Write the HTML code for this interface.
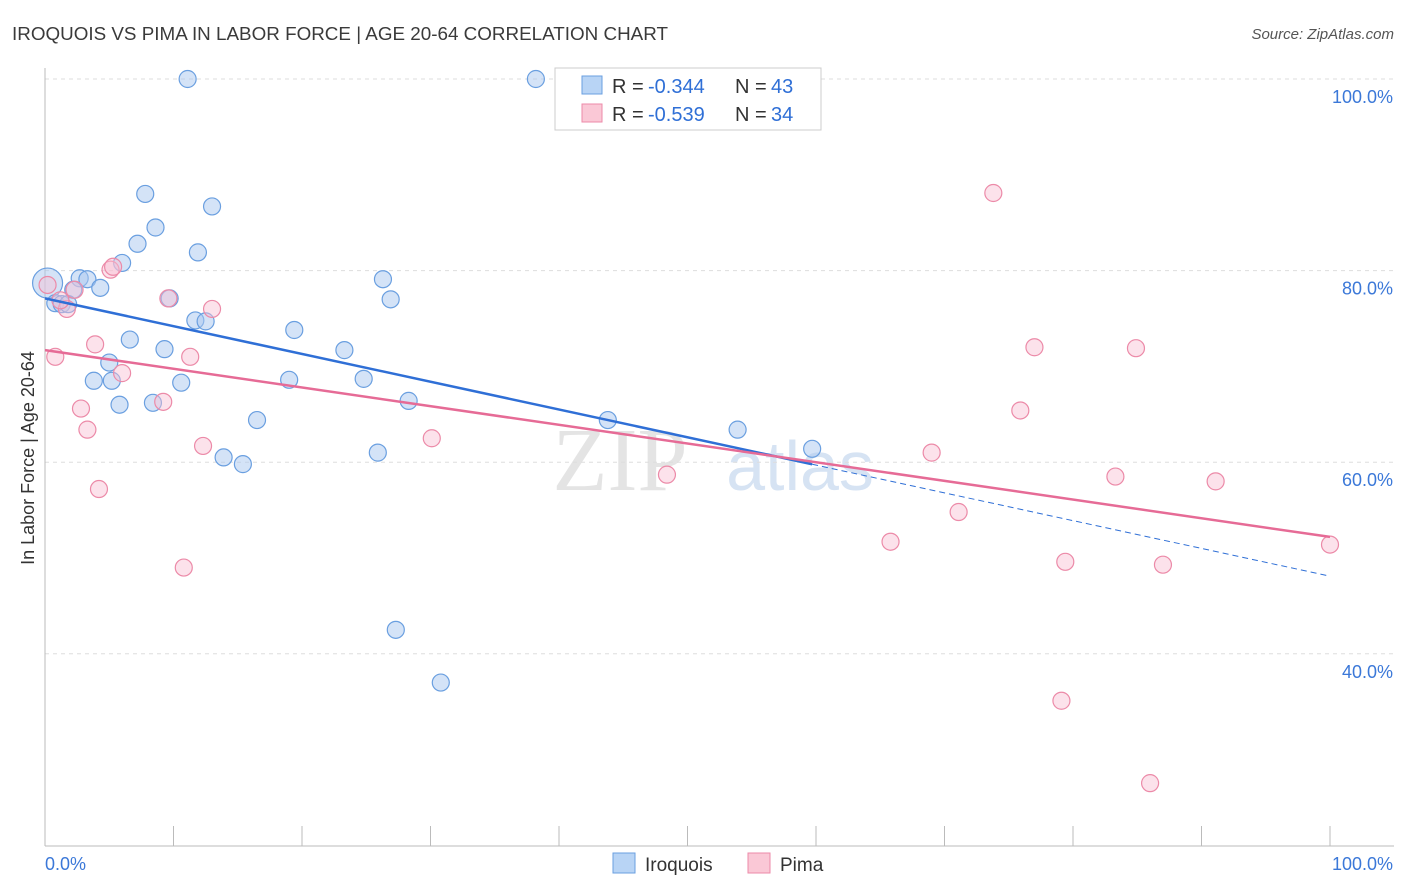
<!DOCTYPE html>
<html><head><meta charset="utf-8"><style>
body{margin:0;background:#fff;font-family:"Liberation Sans",sans-serif;}
svg{display:block}
</style></head><body>
<svg id="chart" width="1406" height="892">
<text x="12" y="40" font-size="18" fill="#3a3a3a" textLength="656" lengthAdjust="spacingAndGlyphs">IROQUOIS VS PIMA IN LABOR FORCE | AGE 20-64 CORRELATION CHART</text>
<text x="1394" y="39" font-size="15" fill="#555" text-anchor="end" font-style="italic">Source: ZipAtlas.com</text>
<text x="34" y="458" font-size="18" fill="#333" transform="rotate(-90 34 458)" text-anchor="middle">In Labor Force | Age 20-64</text>
<text x="620" y="490" font-size="90" fill="#e4e4e4" font-family="Liberation Serif,serif" text-anchor="middle">ZIP</text>
<text x="800" y="490" font-size="70" fill="#d6e3f3" text-anchor="middle">atlas</text>
<g id="grid"></g><g id="marks"></g>
<g>
<rect x="555" y="68" width="266" height="62" fill="#fff" stroke="#ccc"/>
<rect x="582" y="76" width="20" height="18" fill="#b8d4f5" stroke="#6a9fe0"/>
<rect x="582" y="104" width="20" height="18" fill="#fac8d6" stroke="#ec8aa8"/>
<text x="612" y="93" font-size="20" fill="#333">R =</text>
<text x="648" y="93" font-size="20" fill="#2f6fd6">-0.344</text>
<text x="735" y="93" font-size="20" fill="#333">N =</text>
<text x="771" y="93" font-size="20" fill="#2f6fd6">43</text>
<text x="612" y="121" font-size="20" fill="#333">R =</text>
<text x="648" y="121" font-size="20" fill="#2f6fd6">-0.539</text>
<text x="735" y="121" font-size="20" fill="#333">N =</text>
<text x="771" y="121" font-size="20" fill="#2f6fd6">34</text>
</g>
<g>
<rect x="613" y="853" width="22" height="20" fill="#b8d4f5" stroke="#6a9fe0"/>
<text x="645" y="871" font-size="19" fill="#333">Iroquois</text>
<rect x="748" y="853" width="22" height="20" fill="#fac8d6" stroke="#ec8aa8"/>
<text x="780" y="871" font-size="19" fill="#333">Pima</text>
</g>
</svg>
<script>
const iroqX=[11.1,38.2,7.8,13.0,8.6,7.2,11.9,6.0,2.7,3.3,26.3,4.3,2.2,0.2,26.9,0.8,1.3,1.8,11.7,12.5,19.4,6.6,9.3,23.3,5.0,3.8,5.2,10.6,19.0,24.8,8.4,5.8,28.3,16.5,43.8,53.9,59.7,13.9,15.4,25.9,27.3,30.8,9.7];
const iroqY=[100,100,88.0,86.7,84.5,82.8,81.9,80.8,79.2,79.1,79.1,78.2,78.0,78.7,77.0,76.6,76.5,76.5,74.8,74.7,73.8,72.8,71.8,71.7,70.4,68.5,68.5,68.3,68.6,68.7,66.2,66.0,66.4,64.4,64.4,63.4,61.4,60.5,59.8,61.0,42.5,37.0,77.1];
const pimaX=[73.8,0.2,5.1,5.3,9.6,2.3,1.7,13.0,3.9,0.8,11.3,6.0,2.8,9.2,3.3,30.1,12.3,69.0,75.9,77.0,84.9,48.4,83.3,91.1,4.2,71.1,65.8,100,10.8,79.4,87.0,79.1,86.0,1.2];
const pimaY=[88.1,78.5,80.1,80.4,77.1,78.0,76.0,76.0,72.3,71.0,71.0,69.3,65.6,66.3,63.4,62.5,61.7,61.0,65.4,72.0,71.9,58.7,58.5,58.0,57.2,54.8,51.7,51.4,49.0,49.6,49.3,35.1,26.5,76.9];
const iroqLine=[77.1,48.1], iroqSolidEnd=59.7;
const pimaLine=[71.7,52.2];
const yTicks=[100,80,60,40];
const yTickLabels=["100.0%","80.0%","60.0%","40.0%"];
const xTickCount=10;
const X=v=>45+v*12.85, Y=v=>79+(100-v)*9.58;
const NS="http://www.w3.org/2000/svg";
function mk(t,a,p){const e=document.createElementNS(NS,t);for(const k in a)e.setAttribute(k,a[k]);p.appendChild(e);return e;}
const grid=document.getElementById('grid'),marks=document.getElementById('marks');
yTicks.forEach((t,i)=>{
 const l=mk('line',{x1:45,x2:1394,y1:Y(t),y2:Y(t),stroke:'#ddd','stroke-dasharray':'4,4'},grid);
 
 
 const tx=mk('text',{x:1393,y:Y(t)+24,'font-size':18,fill:'#3b78d8','text-anchor':'end'},grid);
 tx.textContent=yTickLabels[i];
 
 
});
const ax=mk('line',{x1:45,x2:45,y1:68,y2:846,stroke:'#bbb'},grid);


const bx=mk('line',{x1:45,x2:1394,y1:846,y2:846,stroke:'#bbb'},grid);


for(let i=0;i<=xTickCount;i++){const v=i*100/xTickCount;
 const t=mk('line',{x1:X(v),x2:X(v),y1:826,y2:846,stroke:'#bbb'},grid);
 
 }
[["0.0%",45,'start'],["100.0%",1393,'end']].forEach(d=>{const t=mk('text',{x:d[1],y:870,'font-size':18,fill:'#3b78d8','text-anchor':d[2]},grid);t.textContent=d[0];
 
 });
iroqX.forEach((x,i)=>{const big=(i===13);
 const c=mk('circle',{cx:X(x),cy:Y(iroqY[i]),r:big?15:8.5,fill:'rgba(170,200,240,0.5)',stroke:'#6a9fe0','stroke-width':1.2},marks);
 
 });
pimaX.forEach((x,i)=>{
 const c=mk('circle',{cx:X(x),cy:Y(pimaY[i]),r:8.5,fill:'rgba(248,190,210,0.45)',stroke:'#ec8aa8','stroke-width':1.2},marks);
 
 });
const iy=v=>iroqLine[0]+(iroqLine[1]-iroqLine[0])*v/100;
const l1=mk('line',{x1:X(0),y1:Y(iy(0)),x2:X(iroqSolidEnd),y2:Y(iy(iroqSolidEnd)),stroke:'#2f6fd6','stroke-width':2.5},marks);


const l2=mk('line',{x1:X(iroqSolidEnd),y1:Y(iy(iroqSolidEnd)),x2:X(100),y2:Y(iy(100)),stroke:'#2f6fd6','stroke-width':1,'stroke-dasharray':'6,4'},marks);


const l3=mk('line',{x1:X(0),y1:Y(pimaLine[0]),x2:X(100),y2:Y(pimaLine[1]),stroke:'#e66b96','stroke-width':2.5},marks);


</script>
</body></html>
